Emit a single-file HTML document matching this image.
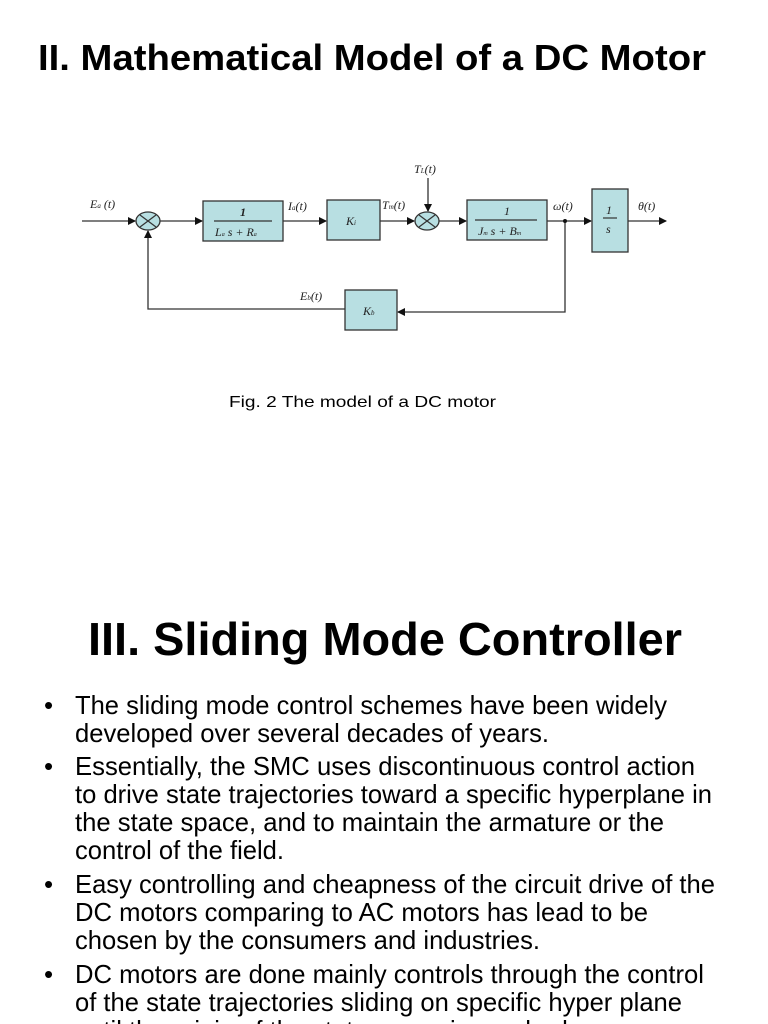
<!DOCTYPE html>
<html><head><meta charset="utf-8"><style>
html,body{margin:0;padding:0;background:#fff;}
svg{display:block;}
.t{font-family:"Liberation Sans",sans-serif;fill:#000;}
.m{font-family:"Liberation Serif",serif;font-style:italic;fill:#222;font-size:12px;}
</style></head><body>
<svg width="768" height="1024" viewBox="0 0 768 1024" xmlns="http://www.w3.org/2000/svg">
<defs><marker id="a" markerWidth="8" markerHeight="8" refX="7" refY="4" orient="auto" markerUnits="userSpaceOnUse"><path d="M0,0 L8,4 L0,8 z" fill="#111"/></marker></defs>
<text class="t" x="38" y="70" font-size="36" font-weight="bold" textLength="668" lengthAdjust="spacingAndGlyphs">II. Mathematical Model of a DC Motor</text>

<g stroke="#333" stroke-width="1.3" fill="none">
<line x1="82" y1="221" x2="135" y2="221" marker-end="url(#a)"/>
<line x1="160" y1="221" x2="202" y2="221" marker-end="url(#a)"/>
<line x1="283" y1="221" x2="326" y2="221" marker-end="url(#a)"/>
<line x1="380" y1="221" x2="414" y2="221" marker-end="url(#a)"/>
<line x1="439" y1="221" x2="466" y2="221" marker-end="url(#a)"/>
<line x1="547" y1="221" x2="591" y2="221" marker-end="url(#a)"/>
<line x1="628" y1="221" x2="666" y2="221" marker-end="url(#a)"/>
<line x1="428" y1="178" x2="428" y2="211" marker-end="url(#a)"/>
<polyline points="565,221 565,312 398,312" marker-end="url(#a)"/>
<polyline points="345,309 148,309 148,231" marker-end="url(#a)"/>
</g>
<circle cx="565" cy="221" r="2" fill="#111"/>
<g fill="#b8dfe2" stroke="#333" stroke-width="1.3">
<ellipse cx="148" cy="221" rx="12" ry="9"/>
<ellipse cx="427" cy="221" rx="12" ry="9"/>
<rect x="203" y="201" width="80" height="40"/>
<rect x="327" y="200" width="53" height="40"/>
<rect x="467" y="200" width="80" height="40"/>
<rect x="592" y="189" width="36" height="63"/>
<rect x="345" y="290" width="52" height="40"/>
</g>
<g stroke="#333" stroke-width="1.2">
<line x1="140" y1="215" x2="156" y2="227"/><line x1="140" y1="227" x2="156" y2="215"/>
<line x1="419" y1="215" x2="435" y2="227"/><line x1="419" y1="227" x2="435" y2="215"/>
<line x1="214" y1="221" x2="272" y2="221"/>
<line x1="475" y1="220" x2="537" y2="220"/>
<line x1="603" y1="218" x2="617" y2="218"/>
</g>
<text class="m" x="240" y="216" font-style="normal" font-weight="bold">1</text>
<text class="m" x="215" y="236" font-size="10">L<tspan font-size="6">a</tspan> s + R<tspan font-size="6">a</tspan></text>
<text class="m" x="346" y="225">K<tspan font-size="7">i</tspan></text>
<text class="m" x="504" y="215" font-style="normal">1</text>
<text class="m" x="478" y="235" font-size="10">J<tspan font-size="6">m</tspan> s + B<tspan font-size="6">m</tspan></text>
<text class="m" x="606" y="214" font-style="normal" font-size="13">1</text>
<text class="m" x="606" y="233" font-size="10">s</text>
<text class="m" x="363" y="315">K<tspan font-size="7">b</tspan></text>
<text class="m" x="90" y="208">E<tspan font-size="7">a</tspan> (t)</text>
<text class="m" x="288" y="210">I<tspan font-size="7">a</tspan>(t)</text>
<text class="m" x="382" y="209">T<tspan font-size="7">m</tspan>(t)</text>
<text class="m" x="414" y="173">T<tspan font-size="7">L</tspan>(t)</text>
<text class="m" x="553" y="210">ω(t)</text>
<text class="m" x="638" y="210">θ(t)</text>
<text class="m" x="300" y="300">E<tspan font-size="7">b</tspan>(t)</text>

<text class="t" x="229" y="407" font-size="16" textLength="267" lengthAdjust="spacingAndGlyphs">Fig. 2 The model of a DC motor</text>

<text class="t" x="88" y="655" font-size="46" font-weight="bold" textLength="594" lengthAdjust="spacingAndGlyphs">III. Sliding Mode Controller</text>

<g class="t" font-size="26">
<text x="44" y="714">•</text>
<text x="75" y="714" textLength="592" lengthAdjust="spacingAndGlyphs">The sliding mode control schemes have been widely</text>
<text x="75" y="742" textLength="474" lengthAdjust="spacingAndGlyphs">developed over several decades of years.</text>
<text x="44" y="775">•</text>
<text x="75" y="775" textLength="620" lengthAdjust="spacingAndGlyphs">Essentially, the SMC uses discontinuous control action</text>
<text x="75" y="803" textLength="637" lengthAdjust="spacingAndGlyphs">to drive state trajectories toward a specific hyperplane in</text>
<text x="75" y="831" textLength="589" lengthAdjust="spacingAndGlyphs">the state space, and to maintain the armature or the</text>
<text x="75" y="859" textLength="209" lengthAdjust="spacingAndGlyphs">control of the field.</text>
<text x="44" y="893">•</text>
<text x="75" y="893" textLength="640" lengthAdjust="spacingAndGlyphs">Easy controlling and cheapness of the circuit drive of the</text>
<text x="75" y="921" textLength="573" lengthAdjust="spacingAndGlyphs">DC motors comparing to AC motors has lead to be</text>
<text x="75" y="949" textLength="465" lengthAdjust="spacingAndGlyphs">chosen by the consumers and industries.</text>
<text x="44" y="983">•</text>
<text x="75" y="983" textLength="629" lengthAdjust="spacingAndGlyphs">DC motors are done mainly controls through the control</text>
<text x="75" y="1011" textLength="607" lengthAdjust="spacingAndGlyphs">of the state trajectories sliding on specific hyper plane</text>
<text x="75" y="1039" textLength="500" lengthAdjust="spacingAndGlyphs">until the origin of the state space is reached.</text>
</g>
</svg>
</body></html>
